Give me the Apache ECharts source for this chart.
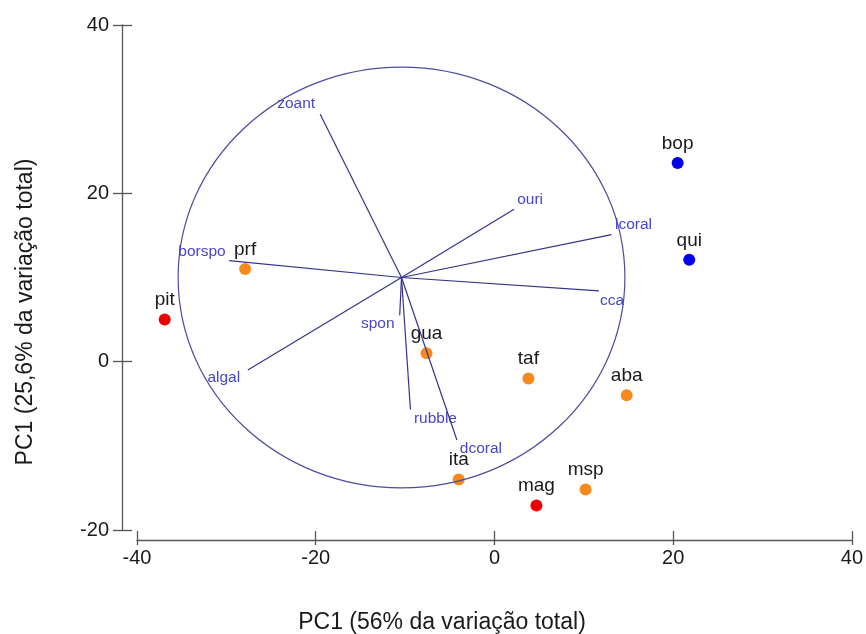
<!DOCTYPE html>
<html>
<head>
<meta charset="utf-8">
<title>PCA biplot</title>
<script src="https://cdn.jsdelivr.net/npm/echarts@6/dist/echarts.min.js"></script>
<style>
  html, body { margin: 0; padding: 0; background: #ffffff; }
  #chart { width: 866px; height: 634px; }
</style>
</head>
<body>
<div id="chart"></div>
<script>
// Site scores on the first two principal components
const siteNames = ['bop', 'qui', 'pit', 'prf', 'gua', 'taf', 'aba', 'ita', 'msp', 'mag'];
const siteX = [20.5, 21.8, -36.9, -27.9, -7.6, 3.8, 14.8, -4.0, 10.2, 4.7];
const siteY = [23.6, 12.1, 5.0, 11.0, 1.0, -2.0, -4.0, -14.0, -15.2, -17.1];
const siteGroup = ['b', 'b', 'r', 'o', 'o', 'o', 'o', 'o', 'o', 'r'];

// Variable loadings (arrow tips) and the correlation circle
const varNames = ['zoant', 'borspo', 'algal', 'spon', 'rubble', 'dcoral', 'ouri', 'lcoral', 'cca'];
const varX = [-19.5, -29.7, -27.6, -10.6, -9.4, -4.2, 2.2, 13.1, 11.7];
const varY = [29.4, 12.0, -1.0, 5.5, -5.7, -9.3, 18.1, 15.1, 8.4];
const arrowOrigin = [-10.4, 10.0];
const circleRadius = 25;

// Axis ticks
const xTicks = [-40, -20, 0, 20, 40];
const yTicks = [-20, 0, 20, 40];

// ---- styling ----
const FONT = "'Liberation Sans', Arial, sans-serif";
const groupColor = { b: '#0000ee', r: '#ee0000', o: '#f68a1e' };
const vecLine = '#34348c';
const vecText = '#4646c8';
const circleColor = '#4c4ca0';
const axisColor = '#555555';
const textColor = '#1a1a1a';
// pixel offsets of each variable label from its arrow tip
const varLabelOffset = {
  zoant: [-24, -10], borspo: [-27, -9], algal: [-24, 8], spon: [-22, 8],
  rubble: [25, 9], dcoral: [24, 9], ouri: [16, -10], lcoral: [22, -10], cca: [13, 10]
};

const siteData = siteNames.map((n, i) => ({
  name: n,
  value: [siteX[i], siteY[i]],
  itemStyle: { color: groupColor[siteGroup[i]], opacity: 1 }
}));
const varData = varNames.map((n, i) => ({ name: n, value: [varX[i], varY[i]] }));

const tickStyle = { color: axisColor, width: 1.3 };
const axisCommon = {
  type: 'value',
  splitLine: { show: false },
  axisLine: { show: true, onZero: false, lineStyle: { color: axisColor, width: 1.3 } },
  axisLabel: { color: textColor, fontSize: 20, fontFamily: FONT },
};

const chart = echarts.init(document.getElementById('chart'), null, { renderer: 'canvas' });
chart.setOption({
  backgroundColor: '#ffffff',
  animation: false,
  grid: { left: 137, right: 8, top: 25, bottom: 104, containLabel: false },
  xAxis: [
    Object.assign({}, axisCommon, {
      position: 'bottom',
      min: xTicks[0], max: xTicks[xTicks.length - 1], interval: 20,
      offset: 10,
      axisTick: { show: true, inside: true, length: 9, lineStyle: tickStyle },
      axisLabel: Object.assign({}, axisCommon.axisLabel, { margin: 8 })
    }),
    Object.assign({}, axisCommon, {
      position: 'bottom',
      min: xTicks[0], max: xTicks[xTicks.length - 1], interval: 20,
      offset: 10,
      axisLine: { show: false, onZero: false },
      axisTick: { show: true, inside: false, length: 5, lineStyle: tickStyle },
      axisLabel: { show: false }
    })
  ],
  yAxis: [
    Object.assign({}, axisCommon, {
      position: 'left',
      min: yTicks[0], max: yTicks[yTicks.length - 1], interval: 20,
      offset: 15,
      axisTick: { show: true, inside: false, length: 9, lineStyle: tickStyle },
      axisLabel: Object.assign({}, axisCommon.axisLabel, { margin: 13 })
    }),
    Object.assign({}, axisCommon, {
      position: 'left',
      min: yTicks[0], max: yTicks[yTicks.length - 1], interval: 20,
      offset: 15,
      axisLine: { show: false, onZero: false },
      axisTick: { show: true, inside: true, length: 10, lineStyle: tickStyle },
      axisLabel: { show: false }
    })
  ],
  graphic: [
    {
      type: 'text', x: 442, y: 623,
      style: {
        text: 'PC1 (56% da variação total)',
        font: '23px ' + FONT, fill: textColor, align: 'center', verticalAlign: 'middle'
      }
    },
    {
      type: 'text', x: 26, y: 312, rotation: Math.PI / 2,
      style: {
        text: 'PC1 (25,6% da variação total)',
        font: '23px ' + FONT, fill: textColor, align: 'center', verticalAlign: 'middle'
      }
    }
  ],
  series: [
    {
      type: 'scatter',
      z: 2,
      symbol: 'circle',
      symbolSize: 12,
      data: siteData,
      itemStyle: { opacity: 1 },
      label: {
        show: true, position: 'top', distance: 4,
        formatter: p => p.name,
        color: textColor, fontSize: 19, fontFamily: FONT
      }
    },
    {
      // correlation circle
      type: 'custom',
      z: 3,
      data: [[arrowOrigin[0], arrowOrigin[1], circleRadius]],
      renderItem: (params, api) => {
        const c = api.coord([api.value(0), api.value(1)]);
        const s = api.size([api.value(2), api.value(2)]);
        return {
          type: 'ellipse',
          shape: { cx: c[0], cy: c[1], rx: s[0], ry: s[1] },
          style: { fill: 'none', stroke: circleColor, lineWidth: 1.2 }
        };
      }
    },
    {
      // loading arrows with their labels
      type: 'custom',
      z: 4,
      data: varData,
      renderItem: (params, api) => {
        const o = api.coord(arrowOrigin);
        const e = api.coord([api.value(0), api.value(1)]);
        const name = varNames[params.dataIndex];
        const off = varLabelOffset[name];
        return {
          type: 'group',
          children: [
            {
              type: 'line',
              shape: { x1: o[0], y1: o[1], x2: e[0], y2: e[1] },
              style: { stroke: vecLine, lineWidth: 1.2 }
            },
            {
              type: 'text',
              style: {
                text: name, x: e[0] + off[0], y: e[1] + off[1],
                font: '15.5px ' + FONT, fill: vecText,
                align: 'center', verticalAlign: 'middle'
              }
            }
          ]
        };
      }
    }
  ]
});
</script>
</body>
</html>
